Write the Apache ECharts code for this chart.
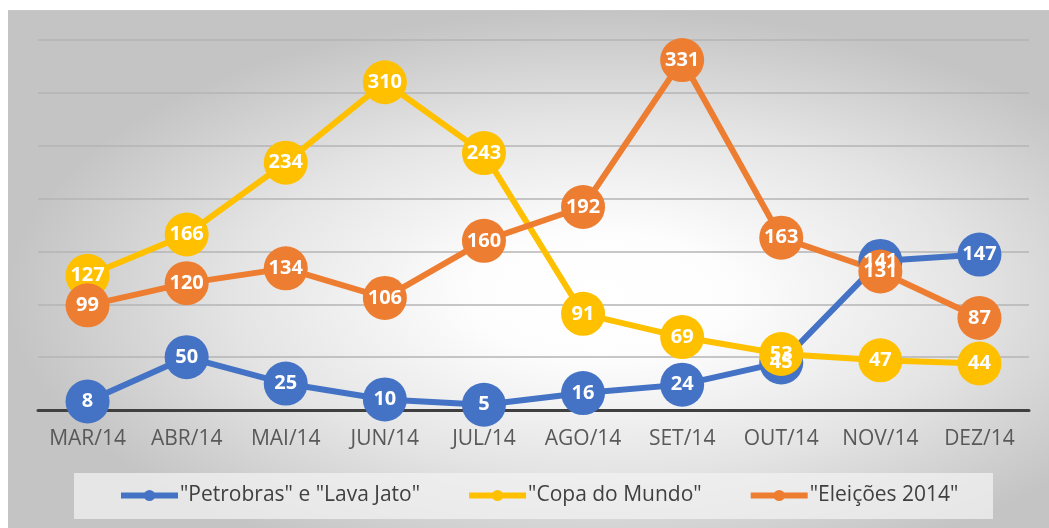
<!DOCTYPE html>
<html>
<head>
<meta charset="utf-8">
<script src="https://cdn.jsdelivr.net/npm/echarts@6/dist/echarts.min.js"></script>
<style>
html,body{margin:0;padding:0;background:#fff;}
#bg{position:absolute;left:8px;top:10px;width:1041px;height:518px;
background:radial-gradient(farthest-side ellipse at 57% 55%, #ffffff 0%, #fdfdfd 22%, #e4e4e4 62%, #c4c4c4 100%);
border-top:1px solid #c8c8c8;}
#chart{position:absolute;left:0;top:0;width:1049px;height:528px;}
</style>
</head>
<body>
<div id="bg"></div>
<div id="chart"></div>
<script>
const categories = ['MAR/14','ABR/14','MAI/14','JUN/14','JUL/14','AGO/14','SET/14','OUT/14','NOV/14','DEZ/14'];
const seriesNames = ['"Petrobras" e "Lava Jato"', '"Copa do Mundo"', '"Eleições 2014"'];
const petrobras = [8, 50, 25, 10, 5, 16, 24, 45, 141, 147];
const copa = [127, 166, 234, 310, 243, 91, 69, 53, 47, 44];
const eleicoes = [99, 120, 134, 106, 160, 192, 331, 163, 131, 87];
const colors = ['#4472C4', '#FFC000', '#ED7D31'];

const chart = echarts.init(document.getElementById('chart'), null, {renderer: 'canvas'});
const font = '"Open Sans", sans-serif';
function mk(name, data, color) {
  return {
    name: name, type: 'line', data: data,
    symbol: 'circle', symbolSize: 44,
    lineStyle: {width: 6, color: color},
    itemStyle: {color: color},
    label: {show: true, position: 'inside', color: '#fff', fontWeight: 'bold', fontSize: 20, fontFamily: font},
    emphasis: {disabled: true},
    animation: false
  };
}
chart.setOption({
  backgroundColor: 'transparent',
  animation: false,
  graphic: [{
    type: 'rect', left: 74, top: 473, z: 0, silent: true,
    shape: {width: 919, height: 46},
    style: {fill: 'rgba(242,242,242,0.75)'}
  }],
  grid: {left: 38, right: 20, top: 40, bottom: 118, containLabel: false},
  xAxis: {
    type: 'category', data: categories, boundaryGap: true,
    axisLine: {lineStyle: {color: '#404040', width: 3}},
    axisTick: {show: false},
    axisLabel: {color: '#595959', fontSize: 21, fontFamily: font, margin: 19, interval: 0},
    splitLine: {show: false}
  },
  yAxis: {
    type: 'value', min: 0, max: 350, interval: 50,
    axisLabel: {show: false}, axisLine: {show: false}, axisTick: {show: false},
    splitLine: {lineStyle: {color: '#b4b4b4', width: 1.5}}
  },
  legend: {
    data: seriesNames, left: 113, top: 480, itemGap: 46,
    itemWidth: 57, itemHeight: 14,
    lineStyle: {width: 6},
    textStyle: {color: '#404040', fontSize: 21, fontFamily: font, padding: [0,0,0,-3]}
  },
  series: [mk(seriesNames[0], petrobras, colors[0]), mk(seriesNames[1], copa, colors[1]), mk(seriesNames[2], eleicoes, colors[2])]
});
</script>
</body>
</html>
